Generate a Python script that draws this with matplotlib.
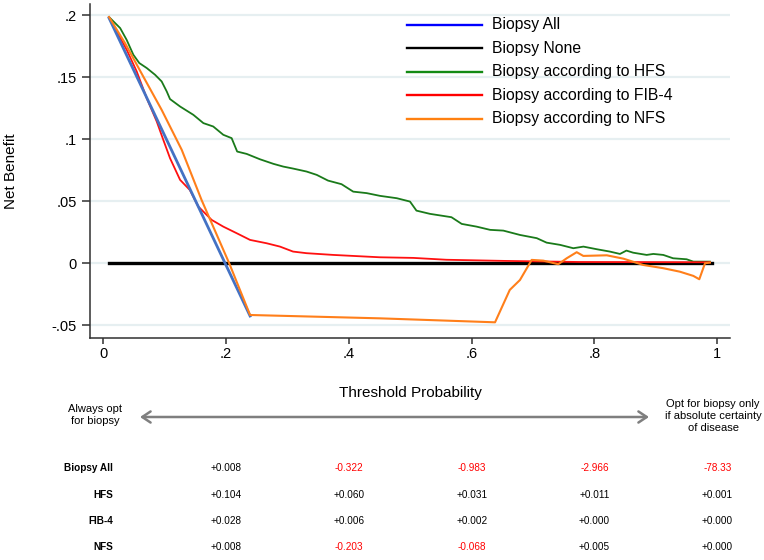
import matplotlib
matplotlib.use('Agg')
import matplotlib.pyplot as plt
import matplotlib.transforms as mtransforms
from matplotlib.lines import Line2D

plt.rcParams['font.family'] = ['Liberation Sans', 'DejaVu Sans']

# net benefit curves (threshold probability, net benefit)
all_x = [0.0093, 0.239]
all_y = [0.1976, -0.0425]

none_x = [0.0093, 0.991]
none_y = [0.0, 0.0]

hfs_x = [0.0093, 0.0274, 0.038, 0.0489, 0.0586, 0.0707, 0.0842, 0.095, 0.1033,
         0.1086, 0.125, 0.1466, 0.163, 0.179, 0.1954, 0.209, 0.218, 0.2335,
         0.255, 0.277, 0.293, 0.309, 0.331, 0.3476, 0.366, 0.388, 0.407, 0.429,
         0.4506, 0.478, 0.4995, 0.510, 0.532, 0.567, 0.5837, 0.608, 0.630,
         0.6515, 0.6786, 0.706, 0.722, 0.744, 0.7655, 0.782, 0.8036, 0.825,
         0.8415, 0.852, 0.863, 0.885, 0.8958, 0.912, 0.928, 0.950, 0.961, 0.988]
hfs_y = [0.1984, 0.1895, 0.180, 0.168, 0.1613, 0.1573, 0.1519, 0.1465, 0.1384,
         0.1323, 0.1263, 0.1196, 0.1129, 0.1102, 0.1035, 0.1008, 0.090, 0.0881,
         0.0838, 0.0801, 0.0779, 0.0763, 0.0739, 0.0712, 0.0666, 0.0637, 0.0577, 0.0565,
         0.0543, 0.0524, 0.0497, 0.0424, 0.0398, 0.0371, 0.0317, 0.0295, 0.0269,
         0.0263, 0.0228, 0.0202, 0.0166, 0.0148, 0.0121, 0.0134, 0.0113, 0.0094,
         0.0075, 0.0102, 0.0085, 0.0067, 0.0075, 0.0067, 0.004, 0.0032, 0.0013, 0.0013]

fib4_x = [0.0093, 0.0381, 0.0544, 0.0707, 0.087, 0.0977, 0.1086, 0.125, 0.141,
          0.1547, 0.1765, 0.1954, 0.2172, 0.239, 0.266, 0.2878, 0.309,
          0.331, 0.3746, 0.4506, 0.505, 0.559, 0.651, 0.776, 0.988]
fib4_y = [0.198, 0.172, 0.1545, 0.133, 0.1142, 0.0994, 0.0847, 0.0672, 0.059,
          0.0457, 0.0349, 0.0295, 0.0242, 0.0188, 0.0161, 0.0134, 0.0094,
          0.0081, 0.0067, 0.0048, 0.0043, 0.0028, 0.0019, 0.001, 0.0008]

nfs_x = [0.0093, 0.0353, 0.065, 0.095, 0.1277, 0.160, 0.205, 0.239, 0.4506,
         0.638, 0.662, 0.6786, 0.6977, 0.7166, 0.741, 0.7547, 0.771, 0.7818,
         0.820, 0.847, 0.8795, 0.912, 0.939, 0.961, 0.9707, 0.980, 0.988]
nfs_y = [0.1984, 0.1774, 0.1505, 0.1236, 0.0914, 0.051, 0.0, -0.0417, -0.0444,
         -0.0476, -0.0215, -0.0135, 0.0027, 0.0021, -0.0008, 0.004, 0.0089, 0.0059,
         0.0064, 0.0037, -0.0014, -0.004, -0.0068, -0.0102, -0.0129, 0.0, 0.0005]

legend_labels = ['Biopsy All', 'Biopsy None', 'Biopsy according to HFS',
                 'Biopsy according to FIB-4', 'Biopsy according to NFS']
legend_colors = ['#0000ff', '#000000', '#138a13', '#ff0000', '#ff8010']

xticks = [0, 0.2, 0.4, 0.6, 0.8, 1.0]
xtick_labels = ['0', '.2', '.4', '.6', '.8', '1']
yticks = [-0.05, 0, 0.05, 0.1, 0.15, 0.2]
ytick_labels = ['-.05', '0', '.05', '.1', '.15', '.2']

# net benefit table at selected thresholds
table_thresholds = [0.2, 0.4, 0.6, 0.8, 1.0]
table_rows = ['Biopsy All', 'HFS', 'FIB-4', 'NFS']
table_values = [
    ['+0.008', '-0.322', '-0.983', '-2.966', '-78.33'],
    ['+0.104', '+0.060', '+0.031', '+0.011', '+0.001'],
    ['+0.028', '+0.006', '+0.002', '+0.000', '+0.000'],
    ['+0.008', '-0.203', '-0.068', '+0.005', '+0.000'],
]

W, H = 764, 560
fig = plt.figure(figsize=(W / 100, H / 100), dpi=100)
ax = fig.add_axes([90 / W, 1 - 337.7 / H, 640 / W, 333.7 / H])

ax.set_xlim(-0.0217, 1.0207)
ax.set_ylim(-0.06, 0.2089)

for yt in yticks:
    ax.axhline(yt, color='#e6eff1', lw=1.6, zorder=0)

ax.plot(none_x, none_y, color='black', lw=2.4, zorder=2)
ax.plot(hfs_x, hfs_y, color='#1a7a1a', lw=1.3, zorder=3)
ax.plot(fib4_x, fib4_y, color='#ff1010', lw=1.3, zorder=3)
ax.plot(all_x, all_y, color='#4472c4', lw=2.0, zorder=4)
ax.plot(nfs_x, nfs_y, color='#ff7f1a', lw=1.5, zorder=5)

for s in ['top', 'right']:
    ax.spines[s].set_visible(False)
for s in ['left', 'bottom']:
    ax.spines[s].set_color('#303030')
    ax.spines[s].set_linewidth(1.1)

ax.set_xticks(xticks)
ax.set_xticklabels(xtick_labels)
ax.set_yticks(yticks)
ax.set_yticklabels(ytick_labels)
ax.tick_params(axis='x', length=4.5, width=1.1, color='#303030', pad=2.5, labelsize=10.5)
ax.tick_params(axis='y', length=6, width=1.1, color='#303030', pad=3.5, labelsize=10.5)
ax.set_ylabel('Net Benefit', fontsize=11)
ax.yaxis.set_label_coords(-0.1125, 0.5)

# legend drawn inside the plot area without a frame
leg_y = [0.938, 0.868, 0.797, 0.726, 0.656]
for lbl, col, yy in zip(legend_labels, legend_colors, leg_y):
    ax.add_line(Line2D([0.495, 0.613], [yy, yy], color=col, lw=1.7,
                       transform=ax.transAxes, clip_on=False))
    ax.text(0.628, yy, lbl, transform=ax.transAxes, fontsize=11.3,
            va='center', ha='left')


def fy(py):
    return 1 - py / H


fig.text(410 / W, fy(393), 'Threshold Probability', fontsize=11,
         ha='center', va='center')
fig.text(95 / W, fy(415), 'Always opt\nfor biopsy', fontsize=8,
         ha='center', va='center', linespacing=1.3)
fig.text(713 / W, fy(416), 'Opt for biopsy only\nif absolute certainty\nof disease',
         fontsize=8, ha='center', va='center', linespacing=1.3)
ax.annotate('', xy=(649 / W, fy(417)), xytext=(140 / W, fy(417)),
            xycoords='figure fraction', textcoords='figure fraction',
            arrowprops=dict(arrowstyle='<->,head_length=0.6,head_width=0.4',
                            color='#7f7f7f', lw=1.8, shrinkA=0, shrinkB=0))

row_y = [468, 494.5, 520.8, 547]
col_trans = mtransforms.blended_transform_factory(ax.transData, fig.transFigure)
for name, vals, py in zip(table_rows, table_values, row_y):
    fig.text(113 / W, fy(py), name, fontsize=7.2,
             fontweight='bold', ha='right', va='center')
    for t, v in zip(table_thresholds, vals):
        col = '#ff0000' if v.startswith('-') else 'black'
        ax.text(t, fy(py), v, transform=col_trans, fontsize=7.2,
                color=col, ha='center', va='center', clip_on=False)

fig.savefig('out.png', dpi=100)
